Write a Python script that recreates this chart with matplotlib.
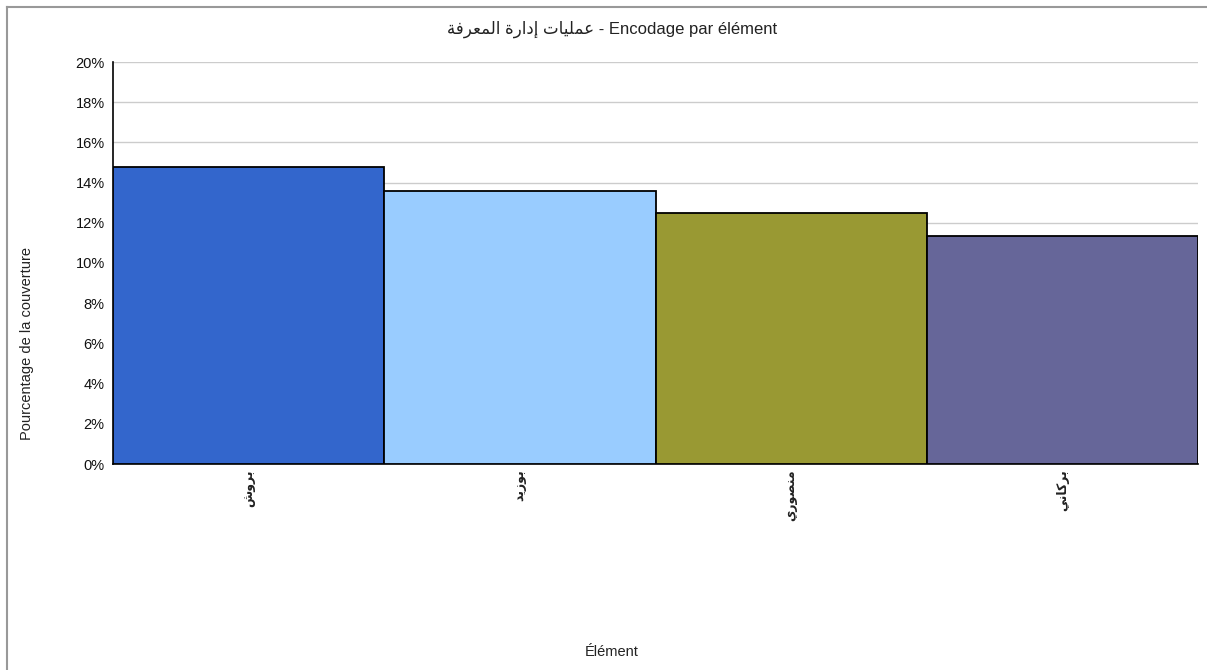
import matplotlib
matplotlib.use("Agg")
import matplotlib.pyplot as plt
from matplotlib.lines import Line2D
from matplotlib.ticker import FuncFormatter

# ---- data ----
categories = ["بروش", "بوزيد", "منصوري", "بركاني"]
values = [14.8, 13.6, 12.5, 11.35]
colors = ["#3366CC", "#99CCFF", "#999933", "#666699"]
title_ar = "عمليات إدارة المعرفة"
title_fr = "Encodage par élément"
ylabel = "Pourcentage de la couverture"
xlabel = "Élément"
yticks = [0, 2, 4, 6, 8, 10, 12, 14, 16, 18, 20]

# ---- minimal Arabic shaping for display (matplotlib has no shaping) ----
FORMS = {  # isolated, final, initial, medial
    'ا': ('\uFE8D', '\uFE8E', None, None),
    'إ': ('\uFE87', '\uFE88', None, None),
    'أ': ('\uFE83', '\uFE84', None, None),
    'ب': ('\uFE8F', '\uFE90', '\uFE91', '\uFE92'),
    'ت': ('\uFE95', '\uFE96', '\uFE97', '\uFE98'),
    'ة': ('\uFE93', '\uFE94', None, None),
    'د': ('\uFEA9', '\uFEAA', None, None),
    'ر': ('\uFEAD', '\uFEAE', None, None),
    'ز': ('\uFEAF', '\uFEB0', None, None),
    'و': ('\uFEED', '\uFEEE', None, None),
    'ش': ('\uFEB5', '\uFEB6', '\uFEB7', '\uFEB8'),
    'ص': ('\uFEB9', '\uFEBA', '\uFEBB', '\uFEBC'),
    'ع': ('\uFEC9', '\uFECA', '\uFECB', '\uFECC'),
    'ف': ('\uFED1', '\uFED2', '\uFED3', '\uFED4'),
    'ك': ('\uFED9', '\uFEDA', '\uFEDB', '\uFEDC'),
    'ل': ('\uFEDD', '\uFEDE', '\uFEDF', '\uFEE0'),
    'م': ('\uFEE1', '\uFEE2', '\uFEE3', '\uFEE4'),
    'ن': ('\uFEE5', '\uFEE6', '\uFEE7', '\uFEE8'),
    'ي': ('\uFEF1', '\uFEF2', '\uFEF3', '\uFEF4'),
}


def shape(text):
    out = []
    n = len(text)
    for i, ch in enumerate(text):
        if ch not in FORMS:
            out.append(ch)
            continue
        prev = text[i - 1] if i > 0 else None
        nxt = text[i + 1] if i < n - 1 else None
        join_prev = prev in FORMS and FORMS[prev][2] is not None
        join_next = nxt in FORMS and FORMS[ch][2] is not None
        iso, fin, ini, med = FORMS[ch]
        if join_prev and join_next:
            out.append(med)
        elif join_prev:
            out.append(fin)
        elif join_next:
            out.append(ini)
        else:
            out.append(iso)
    return "".join(out)[::-1]


plt.rcParams['font.family'] = ['Liberation Sans', 'DejaVu Sans']

W, H = 1207, 670
fig = plt.figure(figsize=(W / 100, H / 100), dpi=100)
ax = fig.add_axes([113 / W, 1 - 464 / H, (1198 - 113) / W, (464 - 62) / H])

x = list(range(len(categories)))
ax.bar(x, values, width=1.0, color=colors, edgecolor="black", linewidth=1.3, zorder=3)
ax.set_xlim(-0.5, len(categories) - 0.5)
ax.set_ylim(0, 20)
ax.set_yticks(yticks)
ax.yaxis.set_major_formatter(FuncFormatter(lambda v, p: f"{v:.0f}%"))
ax.grid(axis="y", color="#cccccc", linewidth=1.0, zorder=0)
ax.set_axisbelow(True)

ax.set_xticks(x)
ax.set_xticklabels([shape(c) for c in categories], rotation=90,
                   family=['DejaVu Sans'], fontsize=9, fontweight="bold",
                   color="#222222")
ax.tick_params(axis="x", length=0, pad=4)
ax.tick_params(axis="y", length=0, pad=6, labelsize=10.5, labelcolor="#111111")

for s in ["top", "right"]:
    ax.spines[s].set_visible(False)
ax.spines["left"].set_color("black")
ax.spines["bottom"].set_color("black")
ax.spines["left"].set_linewidth(1.2)
ax.spines["bottom"].set_linewidth(1.2)

fig.text(612 / W, 1 - 29 / H, shape(title_ar) + " - " + title_fr,
         ha="center", va="center", fontsize=12, color="#222222")
fig.text(27 / W, 1 - 343 / H, ylabel, rotation=90, ha="center", va="center",
         fontsize=10.5, color="#222222")
fig.text(612 / W, 1 - 652 / H, xlabel, ha="center", va="center",
         fontsize=10.5, color="#222222")

# frame lines (top and left)
fig.add_artist(Line2D([7 / W, 1], [1 - 7 / H, 1 - 7 / H], color="#999999", linewidth=1.5,
                      transform=fig.transFigure))
fig.add_artist(Line2D([7 / W, 7 / W], [0, 1 - 7 / H], color="#999999", linewidth=1.5,
                      transform=fig.transFigure))

fig.savefig("out.png", dpi=100, facecolor="white")
